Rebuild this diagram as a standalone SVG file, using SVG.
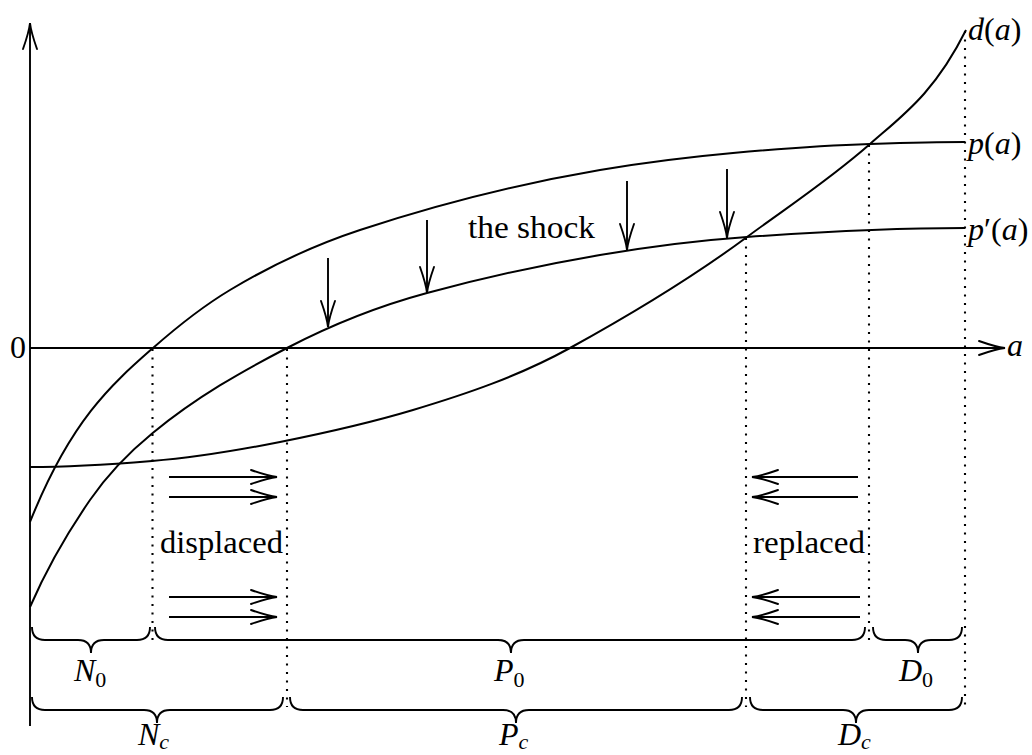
<svg xmlns="http://www.w3.org/2000/svg" width="1032" height="755" viewBox="0 0 1032 755">
<style>
.ln{fill:none;stroke:#000;stroke-width:1.9}
.cv{fill:none;stroke:#000;stroke-width:2}
.dt{fill:none;stroke:#000;stroke-width:2.1;stroke-dasharray:2 6.5}
.br{fill:none;stroke:#000;stroke-width:1.9}
.ar{fill:none;stroke:#000;stroke-width:1.9;marker-end:url(#tip)}
.tx{font-family:"Liberation Serif","Times New Roman",serif;font-size:31px;fill:#000}
.mt{font-size:32px}
.m{font-style:italic}
.sub{font-size:22px}
</style>
<defs>
<marker id="tip" markerUnits="userSpaceOnUse" viewBox="-30 -10 33 20" refX="0" refY="0" markerWidth="33" markerHeight="20" orient="auto" overflow="visible">
<path d="M-26,-7 Q-9,-1 0,0 Q-9,1 -26,7" fill="none" stroke="#000" stroke-width="1.9" stroke-linecap="round"/>
</marker>
</defs>
<rect width="1032" height="755" fill="#fff"/>
<g id="axes">
<path class="ar" d="M30,726 L30,23"/>
<path class="ar" d="M30,348 L1005,348"/>
<text class="tx mt" x="10" y="358">0</text>
<text class="tx mt m" x="1007" y="356">a</text>
</g>
<g id="guides">
<path class="dt" d="M152.5,349 V645"/>
<path class="dt" d="M287,349 V707"/>
<path class="dt" d="M746,238 V707"/>
<path class="dt" d="M869,145 V645"/>
<path class="dt" d="M965,31 V707"/>
</g>
<g id="curve-d">
<path class="cv" d="M30,467 C70.67,467 111.33,464.3 152,461 C194.67,457.6 237.33,450.5 280,442 C324.33,433.1 368.67,423.3 413,410 C465.33,394.3 517.67,376.8 570,348 C629,315.55 688,280.7 747,237 C788,206.7 829,180.1 870,144 C902,115.8 934,94 966,30"/>
<text class="tx mt" x="968" y="40"><tspan class="m">d</tspan>(<tspan class="m">a</tspan>)</text>
</g>
<g id="curve-p">
<path class="cv" d="M30,522 C71,419.5 112,384.1 153,348 C178.67,325.4 204.33,305.4 230,290 C273.33,264 316.67,244.3 360,230 C440,203.6 520,183.6 600,170 C644.33,162.5 688.67,157 733,153 C778.67,148.9 824.33,145.4 870,144 C901.67,143 933.33,142 965,142"/>
<text class="tx mt" x="968" y="154"><tspan class="m">p</tspan>(<tspan class="m">a</tspan>)</text>
</g>
<g id="curve-pprime">
<path class="cv" d="M30,607 C50,561 70,529 90,500 C110.9,469.7 131.8,450.1 152.7,433 C197.47,396.3 242.23,371.3 287,348 C333.67,323.7 380.33,305.6 427,293 C484.67,277.4 542.33,264.8 600,255 C649,246.7 698,240.4 747,237 C819.67,231.9 892.33,228 965,228"/>
<text class="tx mt" x="968" y="240"><tspan class="m">p</tspan><tspan>′(</tspan><tspan class="m">a</tspan>)</text>
</g>
<g id="shock">
<path class="ar" d="M328,258 V327"/>
<path class="ar" d="M427,220 V293"/>
<path class="ar" d="M627,181 V250"/>
<path class="ar" d="M727,169 V238"/>
<text class="tx" x="468" y="238" textLength="127" lengthAdjust="spacingAndGlyphs">the shock</text>
</g>
<g id="displaced">
<path class="ar" d="M169,477 H277"/>
<path class="ar" d="M169,497 H277"/>
<path class="ar" d="M169,597 H277"/>
<path class="ar" d="M169,617 H277"/>
<text class="tx" x="160" y="553" textLength="123" lengthAdjust="spacingAndGlyphs">displaced</text>
</g>
<g id="replaced">
<path class="ar" d="M858,477 H752"/>
<path class="ar" d="M858,497 H752"/>
<path class="ar" d="M860,597 H752"/>
<path class="ar" d="M860,617 H752"/>
<text class="tx" x="753" y="553" textLength="112" lengthAdjust="spacingAndGlyphs">replaced</text>
</g>
<g id="braces-0">
<path class="br" d="M32,627 Q32,640 45,640 L78,640 Q91,640 91,653 Q91,640 104,640 L137,640 Q150,640 150,627"/>
<path class="br" d="M155,627 Q155,640 168,640 L498,640 Q511,640 511,653 Q511,640 524,640 L852,640 Q865,640 865,627"/>
<path class="br" d="M873,627 Q873,640 886,640 L905,640 Q918,640 918,653 Q918,640 931,640 L949,640 Q962,640 962,627"/>
<text class="tx mt" x="74" y="681"><tspan class="m">N</tspan><tspan class="sub" dy="6">0</tspan></text>
<text class="tx mt" x="494" y="681"><tspan class="m">P</tspan><tspan class="sub" dy="6">0</tspan></text>
<text class="tx mt" x="899" y="681"><tspan class="m">D</tspan><tspan class="sub" dy="6">0</tspan></text>
</g>
<g id="braces-c">
<path class="br" d="M32,697 Q32,710 45,710 L144,710 Q157,710 157,723 Q157,710 170,710 L270,710 Q283,710 283,697"/>
<path class="br" d="M290,697 Q290,710 303,710 L503,710 Q516,710 516,723 Q516,710 529,710 L729,710 Q742,710 742,697"/>
<path class="br" d="M750,697 Q750,710 763,710 L843,710 Q856,710 856,723 Q856,710 869,710 L949,710 Q962,710 962,697"/>
<text class="tx mt" x="138" y="745"><tspan class="m">N</tspan><tspan class="sub m" dy="4">c</tspan></text>
<text class="tx mt" x="499" y="745"><tspan class="m">P</tspan><tspan class="sub m" dy="4">c</tspan></text>
<text class="tx mt" x="838" y="745"><tspan class="m">D</tspan><tspan class="sub m" dy="4">c</tspan></text>
</g>
</svg>
